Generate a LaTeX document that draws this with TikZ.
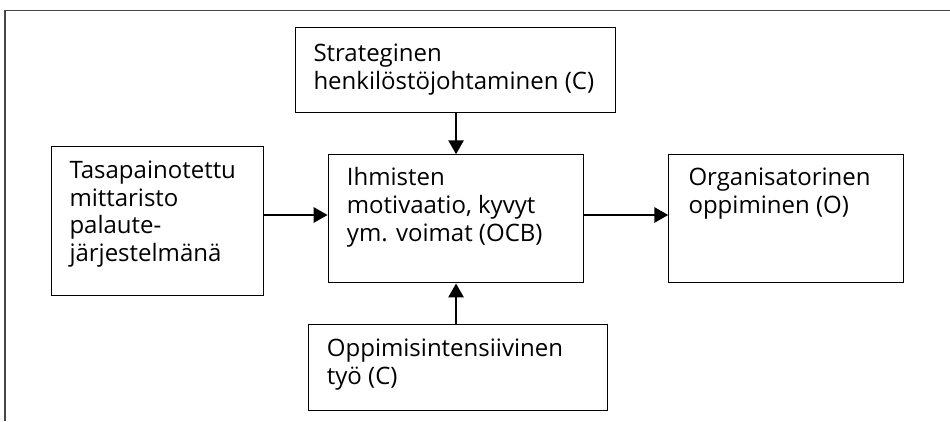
\documentclass[tikz,border=0pt]{standalone}
\usepackage{fontspec}
\setmainfont{Open Sans}
\usetikzlibrary{arrows.meta}
\begin{document}
\begin{tikzpicture}[x=1pt,y=-1pt,
  box/.style={draw=black, line width=1.1pt, inner sep=0pt, anchor=north west},
  % multi-line text is placed by the baseline of its last line
  boxtext/.style={anchor=base west, inner sep=0pt, align=left,
    font=\fontsize{24}{27.6}\selectfont},
  flow/.style={line width=2.8pt, -{Triangle[length=14pt,width=15pt]}},
  frame/.style={draw=black!72, line width=1.3pt}]
\useasboundingbox (0,0) rectangle (950,421);
% outer frame: top and left edges only
\draw[frame] (5,421) -- (5,10.5) -- (950,10.5);

% boxes
\node[box, minimum width=320.3pt, minimum height=85pt] (strat) at (294.7,26.7) {};
\node[box, minimum width=212.6pt, minimum height=149.3pt] (bsc) at (50.7,145.7) {};
\node[box, minimum width=255.6pt, minimum height=128pt] (core) at (327.7,154.3) {};
\node[box, minimum width=235pt, minimum height=128.3pt] (org) at (668.3,154) {};
\node[box, minimum width=298.4pt, minimum height=85.7pt] (work) at (308.3,324.3) {};

% box texts
\node[boxtext] (strat-t) at (313.3,89) {Strateginen\\henkilöstöjohtaminen (C)};
\node[boxtext] (bsc-t) at (69.3,261.5) {Tasapainotettu\\mittaristo\\palaute-\\järjestelmänä};
\node[boxtext] (core-t) at (346.7,241) {Ihmisten\\motivaatio, kyvyt\\ym. voimat (OCB)};
\node[boxtext] (org-t) at (688.3,213.5) {Organisatorinen\\oppiminen (O)};
\node[boxtext] (work-t) at (326.7,384) {Oppimisintensiivinen\\työ (C)};

% connectors
\coordinate (lvl) at (0,215);
\draw[flow] (bsc.east |- lvl) -- (core.west |- lvl);
\draw[flow] (core.east |- lvl) -- (org.west |- lvl);
\draw[flow] (strat.south -| core.north) -- (core.north);
\draw[flow] (work.north -| core.south) -- (core.south);
\end{tikzpicture}
\end{document}
